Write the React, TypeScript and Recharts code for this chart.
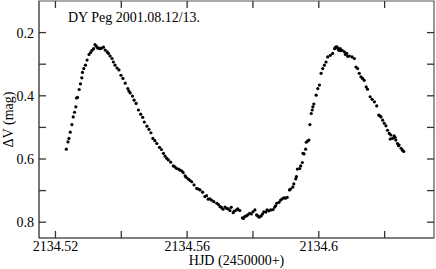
import { ScatterChart, Scatter, XAxis, YAxis, ReferenceArea } from "recharts";

// HJD, in observing order
const hjd = [
  2134.5233, 2134.5238, 2134.5241, 2134.5245, 2134.525, 2134.5254, 2134.5258, 2134.5262,
  2134.5264, 2134.5267, 2134.5272, 2134.5276, 2134.528, 2134.5282, 2134.5286, 2134.5291,
  2134.5296, 2134.5302, 2134.5307, 2134.5311, 2134.5316, 2134.532, 2134.5324, 2134.5328,
  2134.5332, 2134.5336, 2134.534, 2134.5346, 2134.5351, 2134.5357, 2134.5361, 2134.5366,
  2134.5372, 2134.5376, 2134.5381, 2134.5387, 2134.5393, 2134.5399, 2134.5405, 2134.5412,
  2134.542, 2134.5423, 2134.5427, 2134.5434, 2134.5439, 2134.5445, 2134.5452, 2134.5459,
  2134.5465, 2134.547, 2134.5478, 2134.5484, 2134.549, 2134.5496, 2134.5502, 2134.5508,
  2134.5516, 2134.5522, 2134.5528, 2134.5533, 2134.5538, 2134.5543, 2134.555, 2134.5558,
  2134.5563, 2134.5568, 2134.5574, 2134.5578, 2134.5584, 2134.5588, 2134.5594, 2134.5597,
  2134.5604, 2134.5609, 2134.5614, 2134.5621, 2134.5629, 2134.5634, 2134.5639, 2134.5647,
  2134.5654, 2134.5659, 2134.5664, 2134.5669, 2134.5674, 2134.5681, 2134.569, 2134.5695,
  2134.57, 2134.5704, 2134.5709, 2134.5715, 2134.572, 2134.5725, 2134.573, 2134.5734,
  2134.574, 2134.5743, 2134.575, 2134.5754, 2134.576, 2134.5768, 2134.5771, 2134.5775,
  2134.578, 2134.5784, 2134.579, 2134.5795, 2134.58, 2134.5806, 2134.5811, 2134.5815,
  2134.5819, 2134.5825, 2134.5829, 2134.5833, 2134.5839, 2134.5843, 2134.5848, 2134.5854,
  2134.5861, 2134.5866, 2134.5869, 2134.5872, 2134.5879, 2134.5884, 2134.5889, 2134.5894,
  2134.5899, 2134.5904, 2134.5911, 2134.5914, 2134.5921, 2134.5924, 2134.593, 2134.5932,
  2134.5935, 2134.5942, 2134.5945, 2134.595, 2134.5952, 2134.5955, 2134.596, 2134.5962,
  2134.5966, 2134.597, 2134.5973, 2134.5977, 2134.598, 2134.5982, 2134.5985, 2134.5992,
  2134.5997, 2134.6002, 2134.6007, 2134.6012, 2134.6017, 2134.6022, 2134.6027, 2134.6035,
  2134.6042, 2134.6048, 2134.6051, 2134.6055, 2134.6058, 2134.6061, 2134.6065, 2134.6067,
  2134.6071, 2134.6078, 2134.6081, 2134.6085, 2134.6088, 2134.6093, 2134.6101, 2134.6108,
  2134.6113, 2134.6118, 2134.6123, 2134.6128, 2134.6133, 2134.6138, 2134.6144, 2134.6148,
  2134.6156, 2134.6162, 2134.6169, 2134.6176, 2134.6182, 2134.6185, 2134.6189, 2134.6194,
  2134.6199, 2134.6204, 2134.6209, 2134.6214, 2134.6217, 2134.6219, 2134.6224, 2134.6229,
  2134.6232, 2134.6234, 2134.6239, 2134.6242, 2134.6244, 2134.625, 2134.6254, 2134.6258,
];

// delta V (mag), same order
const dmag = [
  0.569, 0.546, 0.535, 0.515, 0.491, 0.467, 0.452, 0.435,
  0.407, 0.405, 0.38, 0.362, 0.343, 0.326, 0.314, 0.303,
  0.287, 0.269, 0.263, 0.256, 0.251, 0.238, 0.243, 0.249,
  0.249, 0.251, 0.249, 0.246, 0.255, 0.261, 0.266, 0.274,
  0.282, 0.293, 0.303, 0.312, 0.318, 0.335, 0.345, 0.36,
  0.377, 0.385, 0.391, 0.401, 0.414, 0.424, 0.445, 0.458,
  0.468, 0.483, 0.496, 0.506, 0.517, 0.535, 0.542, 0.551,
  0.563, 0.57, 0.582, 0.591, 0.598, 0.603, 0.61, 0.622,
  0.625, 0.63, 0.632, 0.635, 0.638, 0.643, 0.653, 0.658,
  0.664, 0.668, 0.672, 0.682, 0.693, 0.695, 0.698, 0.705,
  0.719, 0.716, 0.727, 0.726, 0.73, 0.735, 0.74, 0.744,
  0.751, 0.753, 0.759, 0.752, 0.756, 0.758, 0.763, 0.753,
  0.77, 0.765, 0.761, 0.758, 0.763, 0.786, 0.788, 0.782,
  0.78, 0.777, 0.772, 0.774, 0.767, 0.761, 0.777, 0.78,
  0.784, 0.78, 0.774, 0.767, 0.768, 0.761, 0.764, 0.761,
  0.76, 0.752, 0.748, 0.74, 0.737, 0.73, 0.726, 0.723,
  0.724, 0.721, 0.698, 0.695, 0.689, 0.679, 0.663, 0.656,
  0.632, 0.63, 0.622, 0.611, 0.582, 0.584, 0.569, 0.547,
  0.543, 0.54, 0.491, 0.456, 0.445, 0.435, 0.426, 0.398,
  0.377, 0.366, 0.329, 0.314, 0.303, 0.293, 0.277, 0.272,
  0.266, 0.251, 0.246, 0.245, 0.25, 0.256, 0.251, 0.257,
  0.256, 0.261, 0.269, 0.266, 0.275, 0.274, 0.277, 0.282,
  0.309, 0.314, 0.329, 0.34, 0.345, 0.351, 0.372, 0.379,
  0.403, 0.411, 0.419, 0.432, 0.461, 0.463, 0.467, 0.477,
  0.487, 0.495, 0.509, 0.519, 0.537, 0.524, 0.535, 0.527,
  0.532, 0.54, 0.551, 0.558, 0.556, 0.566, 0.572, 0.576,
];

const xTicks = [2134.52, 2134.54, 2134.56, 2134.58, 2134.6, 2134.62];
const xLabels = [2134.52, 2134.56, 2134.6];
const yTicks = [0.2, 0.3, 0.4, 0.5, 0.6, 0.7, 0.8];
const yLabels = [0.2, 0.4, 0.6, 0.8];
const xDomain = [2134.515, 2134.635];
const yDomain = [0.1, 0.85];

const data = hjd.map((t, i) => ({ t, m: dmag[i] }));

// inward tick marks on all four edges, placed through the chart scales
const tickMarks = [
  ...xTicks.map((t) => ({ t, m: yDomain[0], dir: "down" })),
  ...xTicks.map((t) => ({ t, m: yDomain[1], dir: "up" })),
  ...yTicks.map((m) => ({ t: xDomain[0], m, dir: "right" })),
  ...yTicks.map((m) => ({ t: xDomain[1], m, dir: "left" })),
];

const font = "'Liberation Serif', 'Times New Roman', serif";
const frame = "#555";
const tickColor = "#333";
const tickLen = 7;
const tickFont = { fill: "#000", fontSize: 14, fontFamily: font };

const hasLabel = (list: number[], v: number) => list.some((l) => Math.abs(l - v) < 1e-6);

const Dot = (p: any) => <circle cx={p.cx} cy={p.cy} r={1.6} fill="#000" />;

const TickMark = (p: any) => {
  const { cx, cy } = p;
  const dir = p.payload?.dir ?? p.dir;
  let d = "";
  if (dir === "down") d = `M${cx},${cy}V${cy + tickLen}`;
  else if (dir === "up") d = `M${cx},${cy}V${cy - tickLen}`;
  else if (dir === "right") d = `M${cx},${cy}H${cx + tickLen}`;
  else d = `M${cx},${cy}H${cx - tickLen}`;
  return <path d={d} stroke={tickColor} strokeWidth={1.3} fill="none" />;
};

export default function App() {
  return (
    <div style={{ position: "absolute", left: 0, top: 0, width: 436, height: 269 }}>
      <ScatterChart width={436} height={269} margin={{ top: 1, right: 2, bottom: 0, left: 0 }}>
        <XAxis
          dataKey="t"
          type="number"
          domain={xDomain}
          allowDataOverflow
          ticks={xTicks}
          interval={0}
          tickFormatter={(v) => (hasLabel(xLabels, v) ? String(Number(v.toFixed(2))) : "")}
          tick={tickFont}
          tickLine={false}
          tickSize={0}
          tickMargin={3}
          stroke={frame}
          height={31}
        />
        <YAxis
          dataKey="m"
          type="number"
          reversed
          domain={yDomain}
          allowDataOverflow
          ticks={yTicks}
          interval={0}
          tickFormatter={(v) => (hasLabel(yLabels, v) ? v.toFixed(1) : "")}
          tick={tickFont}
          tickLine={false}
          tickSize={0}
          tickMargin={5}
          stroke={frame}
          width={39}
        />
        <ReferenceArea
          x1={xDomain[0]}
          x2={xDomain[1]}
          y1={yDomain[0]}
          y2={yDomain[1]}
          fill="none"
          stroke={frame}
          strokeWidth={1.2}
          ifOverflow="visible"
        />
        <Scatter data={tickMarks} shape={TickMark} isAnimationActive={false} />
        <Scatter data={data} shape={Dot} isAnimationActive={false} />
      </ScatterChart>
      <svg
        width={436}
        height={269}
        style={{ position: "absolute", left: 0, top: 0, pointerEvents: "none" }}
        fontFamily={font}
        fontSize={14}
      >
        <text x={68} y={22}>DY Peg 2001.08.12/13.</text>
        <text x={236.5} y={265} textAnchor="middle">HJD (2450000+)</text>
        <text x={13} y={119.5} textAnchor="middle" transform="rotate(-90 13 119.5)">
          ΔV (mag)
        </text>
      </svg>
    </div>
  );
}
